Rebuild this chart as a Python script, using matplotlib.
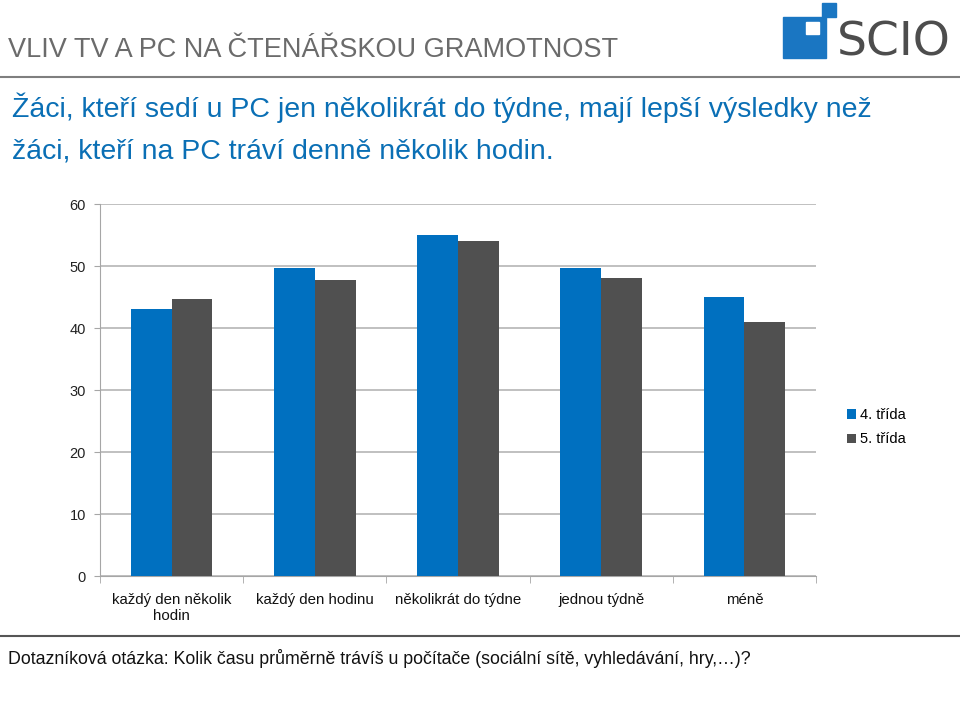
import matplotlib
matplotlib.use('Agg')
import matplotlib.pyplot as plt
from matplotlib.patches import Rectangle
import numpy as np

categories = ['každý den několik\nhodin', 'každý den hodinu', 'několikrát do týdne', 'jednou týdně', 'méně']
grade4 = [43.0, 49.7, 55.0, 49.7, 45.0]
grade5 = [44.6, 47.7, 54.0, 48.1, 41.0]
series_names = ['4. třída', '5. třída']
yticks = [0, 10, 20, 30, 40, 50, 60]

BLUE = '#0070C0'
GRAY = '#505050'

plt.rcParams['font.family'] = ['Liberation Sans', 'DejaVu Sans']

fig = plt.figure(figsize=(9.6, 7.2), dpi=100)

# header
fig.text(0.008, 0.930, 'VLIV TV A PC NA ČTENÁŘSKOU GRAMOTNOST', fontsize=19.5, color='#6b6b6b', va='center', ha='left')
fig.add_artist(plt.Line2D([0, 1], [1 - 77/720, 1 - 77/720], color='#7f7f7f', lw=1.5))
fig.text(0.012, 0.85, 'Žáci, kteří sedí u PC jen několikrát do týdne, mají lepší výsledky než', fontsize=20.5, color='#0a6fb5', va='center', ha='left')
fig.text(0.012, 0.789, 'žáci, kteří na PC tráví denně několik hodin.', fontsize=20.5, color='#0a6fb5', va='center', ha='left')

# logo
fig.add_artist(Rectangle((783/960, 1 - 58/720), 43/960, 41/720, color='#1a76c2', transform=fig.transFigure))
fig.add_artist(Rectangle((806/960, 1 - 34/720), 13/960, 12/720, color='white', transform=fig.transFigure))
fig.add_artist(Rectangle((822/960, 1 - 17/720), 14/960, 14/720, color='#1a76c2', transform=fig.transFigure))
fig.text(0.872, 0.94, 'SCIO', fontsize=34, color='#4d4d4d', va='center', ha='left', family='DejaVu Sans')

ax = fig.add_axes([100/960, 1 - 576/720, 716/960, 372/720])
x = np.arange(len(categories))
w = 0.285
ax.bar(x - w/2, grade4, w, color=BLUE, label=series_names[0], zorder=3)
ax.bar(x + w/2, grade5, w, color=GRAY, label=series_names[1], zorder=3)

ax.set_xlim(-0.5, len(categories) - 0.5)
ax.set_ylim(0, 60)
ax.set_yticks(yticks)
ax.yaxis.grid(True, color='#b5b5b5', lw=1.2, zorder=0)
for s in ['top', 'right']:
    ax.spines[s].set_visible(False)
ax.spines['left'].set_color('#a6a6a6')
ax.spines['bottom'].set_color('#a6a6a6')
ax.tick_params(axis='y', colors='#a6a6a6', labelcolor='#222222', labelsize=10.5, length=4, pad=6)
ax.set_xticks(x)
ax.set_xticklabels(categories, fontsize=10.8, color='#111111', linespacing=1.2)
ax.set_xticks(np.arange(-0.5, len(categories)), minor=True)
ax.tick_params(axis='x', which='major', length=0, pad=12)
ax.tick_params(axis='x', which='minor', length=5, colors='#a6a6a6')

leg = ax.legend(loc='center left', bbox_to_anchor=(1.025, 0.40), frameon=False, fontsize=10.5,
                handlelength=0.6, handleheight=0.6, handletextpad=0.3, labelspacing=0.7)

# footer
fig.add_artist(plt.Line2D([0, 1], [1 - 636/720, 1 - 636/720], color='#555555', lw=1.5))
fig.text(0.008, 1 - 658/720, 'Dotazníková otázka: Kolik času průměrně trávíš u počítače (sociální sítě, vyhledávání, hry,…)?',
         fontsize=12.8, color='#111111', va='center', ha='left')

fig.savefig('out.png', dpi=100)
